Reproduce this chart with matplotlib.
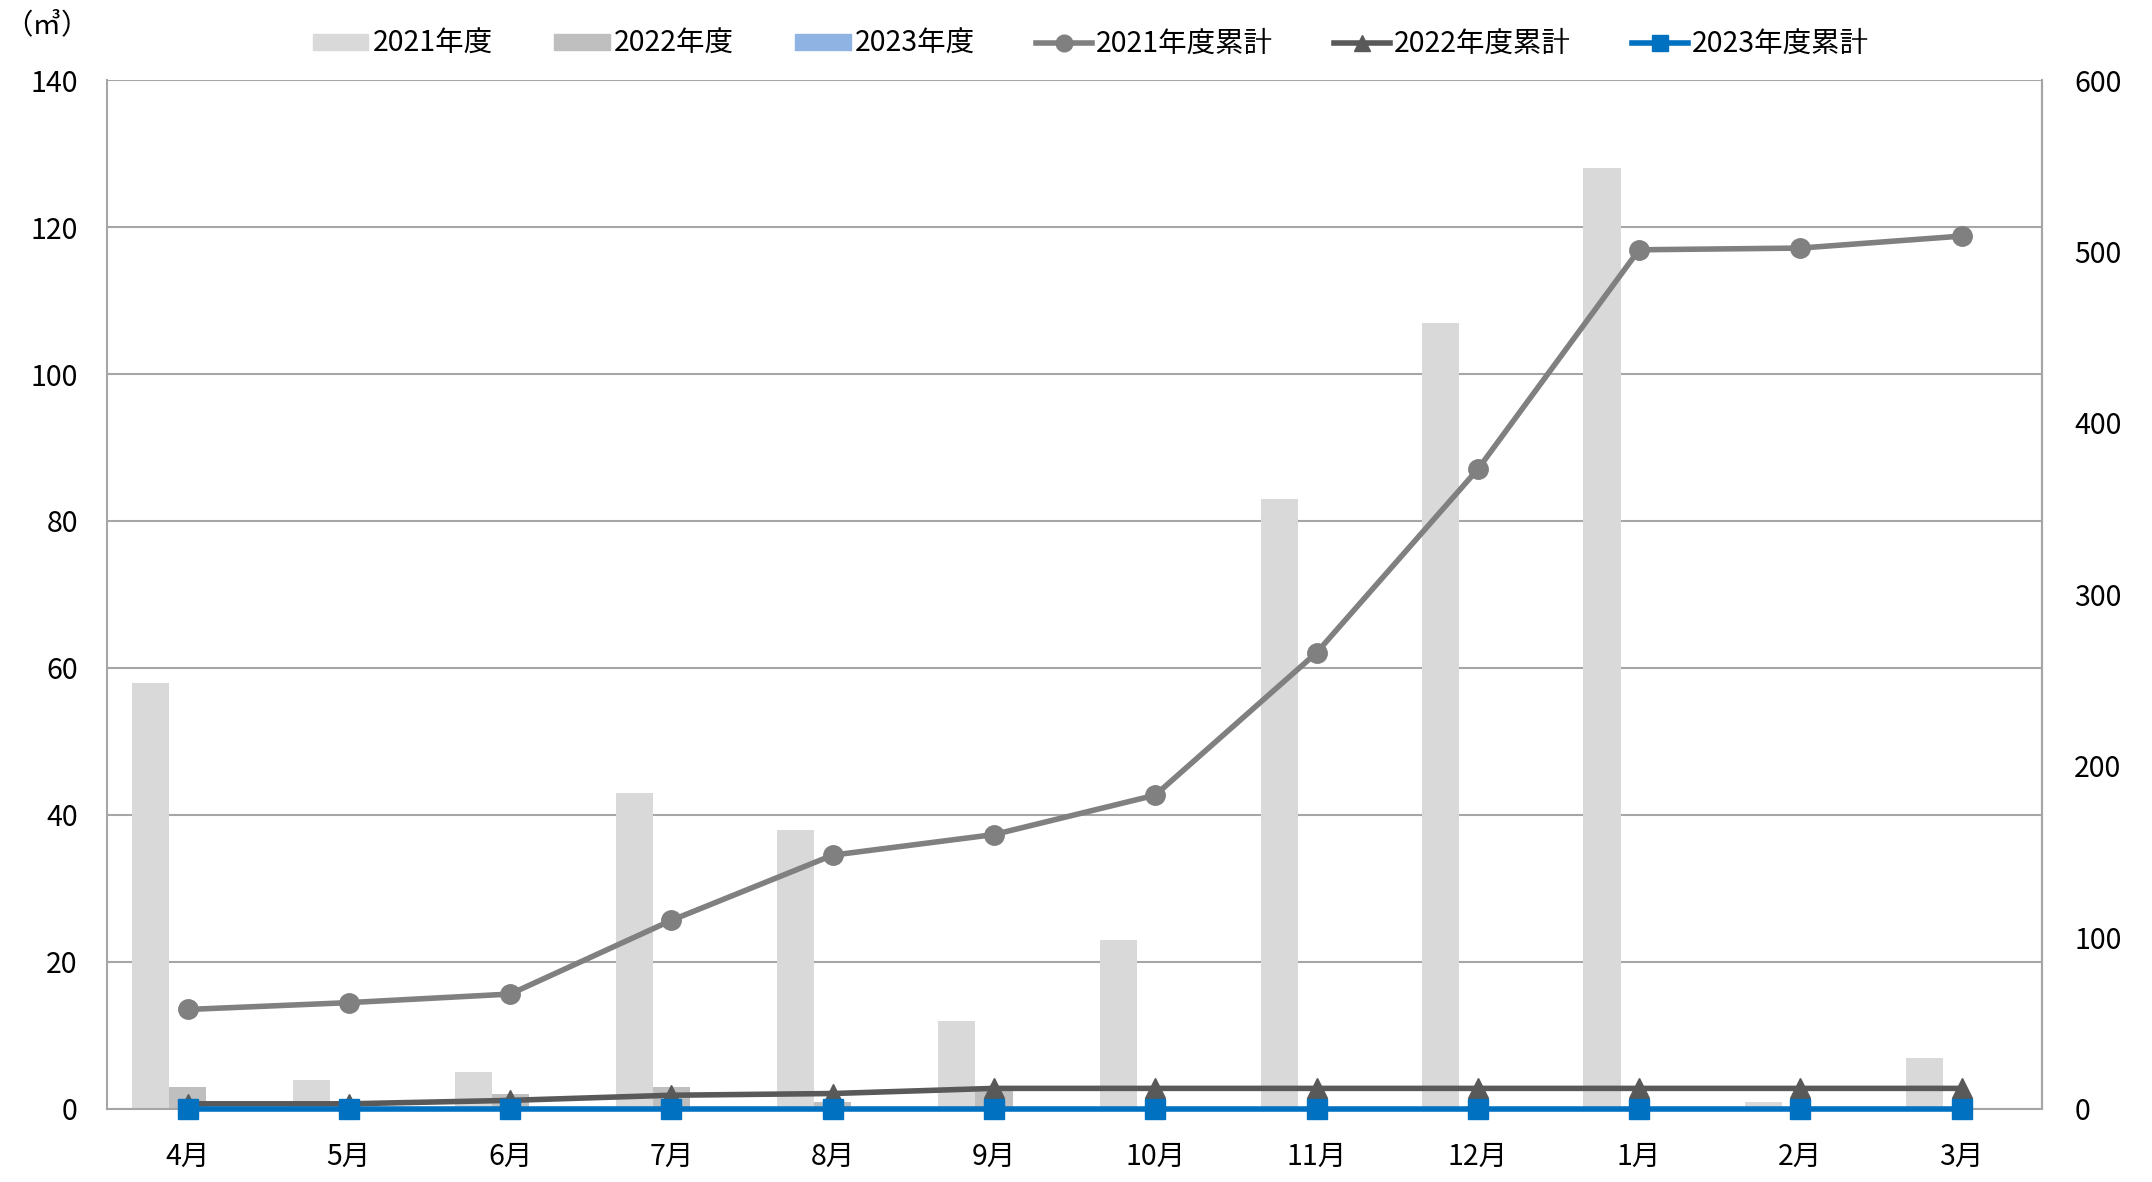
import numpy as np
import matplotlib.pyplot as plt
from matplotlib.patches import Patch
from matplotlib.lines import Line2D

plt.rcParams['font.family'] = ['Noto Sans CJK JP', 'DejaVu Sans']

months = ['4月', '5月', '6月', '7月', '8月', '9月', '10月', '11月', '12月', '1月', '2月', '3月']
vol_2021 = [58, 4, 5, 43, 38, 12, 23, 83, 107, 128, 1, 7]
vol_2022 = [3, 0, 2, 3, 1, 3, 0, 0, 0, 0, 0, 0]
vol_2023 = [0, 0, 0, 0, 0, 0, 0, 0, 0, 0, 0, 0]
cum_2021 = np.cumsum(vol_2021)
cum_2022 = np.cumsum(vol_2022)
cum_2023 = np.cumsum(vol_2023)

c21, c22, c23 = '#D9D9D9', '#BFBFBF', '#8FB4E3'
l21, l22, l23 = '#808080', '#595959', '#0070C0'
grid_c = '#A6A6A6'
fs = 20.5

fig = plt.figure(figsize=(21.52, 11.82), dpi=100)
ax = fig.add_axes([0.0497, 0.0618, 0.8993, 0.8705])
x = np.arange(len(months))
w = 0.23
ax.bar(x - w, vol_2021, w, color=c21, zorder=2)
ax.bar(x, vol_2022, w, color=c22, zorder=2)
ax.bar(x + w, vol_2023, w, color=c23, zorder=2)
ax.set_xlim(-0.5, 11.5)
ax.set_ylim(0, 140)
ax.set_yticks(range(0, 141, 20))
ax.set_xticks(x)
ax.set_xticklabels(months)
ax.grid(axis='y', color=grid_c, linewidth=1.5)
ax.set_axisbelow(True)
ax.spines['top'].set_visible(False)
for s in ['left', 'bottom', 'right']:
    ax.spines[s].set_color(grid_c)
    ax.spines[s].set_linewidth(1.5)
ax.tick_params(axis='both', length=0, labelsize=fs)
ax.tick_params(axis='y', pad=21)
ax.tick_params(axis='x', pad=24)

ax2 = ax.twinx()
ax2.set_ylim(0, 600)
ax2.set_yticks(range(0, 601, 100))
ax2.tick_params(axis='y', length=0, labelsize=fs, pad=23)
for s in ['top', 'left', 'bottom']:
    ax2.spines[s].set_visible(False)
ax2.spines['right'].set_color(grid_c)
ax2.spines['right'].set_linewidth(1.5)
ax2.plot(x, cum_2021, color=l21, lw=4, marker='o', ms=14, clip_on=False, zorder=3)
ax2.plot(x, cum_2022, color=l22, lw=4, marker='^', ms=15, clip_on=False, zorder=4)
ax2.plot(x, cum_2023, color=l23, lw=4, marker='s', ms=14, clip_on=False, zorder=5)

handles = [
    Patch(color=c21, label='2021年度'),
    Patch(color=c22, label='2022年度'),
    Patch(color=c23, label='2023年度'),
    Line2D([], [], color=l21, lw=4, marker='o', ms=12, label='2021年度累計'),
    Line2D([], [], color=l22, lw=4, marker='^', ms=12, label='2022年度累計'),
    Line2D([], [], color=l23, lw=4, marker='s', ms=11, label='2023年度累計'),
]
fig.legend(handles=handles, loc='center', bbox_to_anchor=(0.507, 0.963), ncol=6,
           frameon=False, fontsize=fs, handlelength=1.95, handleheight=0.5,
           handletextpad=0.15, columnspacing=2.15)
fig.text(0.022, 0.979, '（㎥）', fontsize=fs, ha='center', va='center')

fig.savefig('out.png', dpi=100)
